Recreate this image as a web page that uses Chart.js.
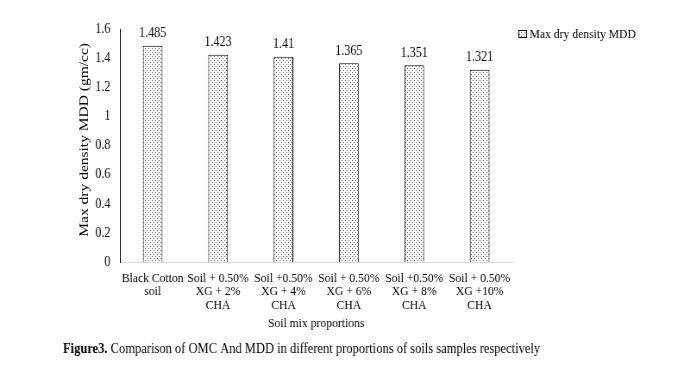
<!DOCTYPE html>
<html><head><meta charset="utf-8">
<script src="https://cdn.jsdelivr.net/npm/chart.js@4/dist/chart.umd.min.js"></script>
<style>html,body{margin:0;padding:0;background:#fff;overflow:hidden;width:690px;height:373px;}
canvas{display:block;transform:scaleX(0.8625);transform-origin:0 0;}</style>
</head><body>
<canvas id="c" width="800" height="373" style="width:800px;height:373px"></canvas>
<script>
const categories = [
  ["Black Cotton", "soil"],
  ["Soil + 0.50%", "XG + 2%", "CHA"],
  ["Soil +0.50%", "XG + 4%", "CHA"],
  ["Soil + 0.50%", "XG + 6%", "CHA"],
  ["Soil +0.50%", "XG + 8%", "CHA"],
  ["Soil + 0.50%", "XG +10%", "CHA"]
];
const mddValues = [1.485, 1.423, 1.41, 1.365, 1.351, 1.321];
const valueLabels = ["1.485", "1.423", "1.41", "1.365", "1.351", "1.321"];
const seriesName = "Max dry density MDD";
const yTitle = "Max dry density MDD (gm/cc)";
const xTitle = "Soil mix proportions";
const captionBold = "Figure3.";
const captionText = " Comparison of OMC And MDD in different proportions of soils samples respectively";

const FONT = "'Liberation Serif', 'Times New Roman', serif";

function makePattern() {
  const p = document.createElement('canvas');
  p.width = 4; p.height = 4;
  const g = p.getContext('2d');
  g.fillStyle = '#fff'; g.fillRect(0, 0, 4, 4);
  g.fillStyle = '#555';
  g.fillRect(0, 0, 1, 1);
  g.fillRect(2, 2, 1, 1);
  return document.getElementById('c').getContext('2d').createPattern(p, 'repeat');
}
const pattern = makePattern();

const extras = {
  id: 'extras',
  afterDatasetsDraw(chart) {
    const ctx = chart.ctx;
    const meta = chart.getDatasetMeta(0);
    ctx.save();
    ctx.fillStyle = '#000';
    ctx.font = "14px " + FONT;
    ctx.textAlign = 'center';
    ctx.textBaseline = 'middle';
    meta.data.forEach((bar, i) => {
      ctx.fillText(valueLabels[i], bar.x, bar.y - 12);
    });
    // legend
    ctx.fillStyle = pattern;
    ctx.fillRect(602, 31, 8, 6);
    ctx.strokeStyle = '#000';
    ctx.lineWidth = 1;
    ctx.strokeRect(601.5, 30.5, 9, 7);
    ctx.fillStyle = '#000';
    ctx.textAlign = 'left';
    ctx.textBaseline = 'middle';
    ctx.font = "13.5px " + FONT;
    ctx.fillText(seriesName, 614, 34);
    // caption
    ctx.textBaseline = 'middle';
    ctx.font = "bold 14.5px " + FONT;
    ctx.fillText(captionBold, 73, 349);
    const w = ctx.measureText(captionBold).width;
    ctx.font = "14.5px " + FONT;
    ctx.fillText(captionText, 73 + w, 349);
    ctx.restore();
  }
};

new Chart(document.getElementById('c'), {
  type: 'bar',
  data: {
    labels: categories,
    datasets: [{
      label: seriesName,
      data: mddValues,
      backgroundColor: pattern,
      borderColor: '#000',
      borderWidth: 1,
      barPercentage: 0.6,
      categoryPercentage: 0.5
    }]
  },
  options: {
    responsive: false,
    animation: false,
    devicePixelRatio: 1,
    layout: { padding: { left: 89, right: 206, top: 29, bottom: 41 } },
    plugins: { legend: { display: false }, tooltip: { enabled: false } },
    scales: {
      x: {
        grid: { display: false, drawTicks: false },
        border: { color: '#d9d9d9', width: 1 },
        ticks: { color: '#000', font: { family: FONT, size: 13.5, lineHeight: 1.0 }, maxRotation: 0, autoSkip: false, padding: 9 },
        title: { display: true, text: xTitle, color: '#000', font: { family: FONT, size: 13.5 }, padding: { top: -5, bottom: 0 } }
      },
      y: {
        min: 0, max: 1.6,
        grid: { display: false, drawTicks: false },
        border: { color: '#000', width: 1 },
        ticks: { stepSize: 0.2, color: '#000', font: { family: FONT, size: 14 }, padding: 11,
          callback: v => String(parseFloat(v.toFixed(1))) },
        title: { display: true, text: "   " + yTitle, color: '#000', font: { family: FONT, size: 15.5 }, padding: { top: 0, bottom: -8 } }
      }
    }
  },
  plugins: [extras]
});
</script>
</body></html>
